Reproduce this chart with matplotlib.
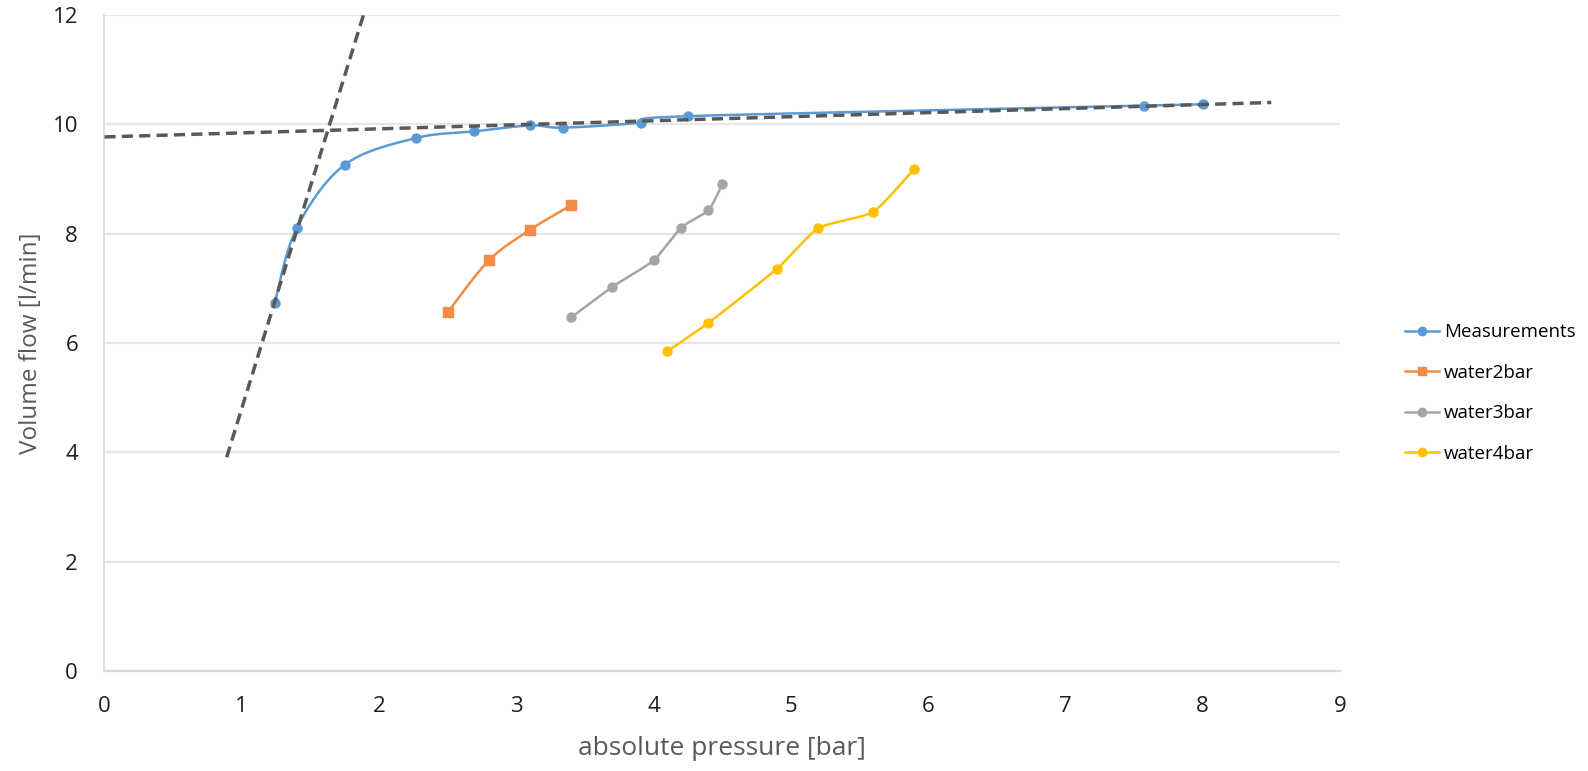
import numpy as np
import matplotlib
matplotlib.use("Agg")
import matplotlib.pyplot as plt

plt.rcParams['font.family'] = ['Open Sans', 'DejaVu Sans']

# data
meas_x = [1.24, 1.40, 1.75, 2.27, 2.69, 3.10, 3.34, 3.91, 4.25, 7.57, 8.0]
meas_y = [6.73, 8.10, 9.26, 9.75, 9.87, 9.98, 9.94, 10.03, 10.15, 10.34, 10.37]

w2_x = [2.5, 2.8, 3.1, 3.4]
w2_y = [6.56, 7.51, 8.07, 8.52]

w3_x = [3.4, 3.7, 4.0, 4.2, 4.4, 4.5]
w3_y = [6.47, 7.03, 7.51, 8.11, 8.43, 8.90]

w4_x = [4.1, 4.4, 4.9, 5.2, 5.6, 5.9]
w4_y = [5.85, 6.37, 7.36, 8.10, 8.40, 9.19]

# tangent lines (dashed)
steep_x = [0.89, 1.89]
steep_y = [3.91, 12.03]
flat_x = [0.0, 8.5]
flat_y = [9.77, 10.40]

labels = ['Measurements', 'water2bar', 'water3bar', 'water4bar']
colors = ['#5B9BD5', '#F38B45', '#A5A5A5', '#FFC000']
tension = [1 / 6.0, 1 / 6.0, 1 / 10.0, 1 / 10.0]


def smooth(xs, ys, f=1 / 6.0, n=30):
    # bezier through the points, like excel's "smoothed line"
    xs = np.asarray(xs, float)
    ys = np.asarray(ys, float)
    px, py = [], []
    k = len(xs)
    t = np.linspace(0, 1, n)
    for i in range(k - 1):
        i0 = max(i - 1, 0)
        i3 = min(i + 2, k - 1)
        c1x = xs[i] + (xs[i + 1] - xs[i0]) * f
        c1y = ys[i] + (ys[i + 1] - ys[i0]) * f
        c2x = xs[i + 1] - (xs[i3] - xs[i]) * f
        c2y = ys[i + 1] - (ys[i3] - ys[i]) * f
        bx = (1 - t) ** 3 * xs[i] + 3 * (1 - t) ** 2 * t * c1x + 3 * (1 - t) * t ** 2 * c2x + t ** 3 * xs[i + 1]
        by = (1 - t) ** 3 * ys[i] + 3 * (1 - t) ** 2 * t * c1y + 3 * (1 - t) * t ** 2 * c2y + t ** 3 * ys[i + 1]
        px.extend(bx)
        py.extend(by)
    return px, py


fig = plt.figure(figsize=(15.88, 7.71), dpi=100)
ax = fig.add_axes([0.0658, 0.1297, 0.778, 0.8508])

series = [(meas_x, meas_y, 'o'), (w2_x, w2_y, 's'), (w3_x, w3_y, 'o'), (w4_x, w4_y, 'o')]
handles = []
for (xs, ys, mk), lab, col, f in zip(series, labels, colors, tension):
    sx, sy = smooth(xs, ys, f)
    ax.plot(sx, sy, color=col, lw=1.8, zorder=3)
    ax.plot(xs, ys, linestyle='none', marker=mk, color=col, markersize=6.5, zorder=4)
    h, = ax.plot([], [], color=col, lw=1.8, marker=mk, markersize=6, label=lab)
    handles.append(h)

ax.plot(steep_x, steep_y, color='#595959', lw=2.5, linestyle=(0, (3.2, 1.8)), zorder=5)
ax.plot(flat_x, flat_y, color='#595959', lw=2.5, linestyle=(0, (3.2, 1.8)), zorder=5)

ax.set_xlim(0, 9)
ax.set_ylim(0, 12)
ax.set_xticks(range(0, 10))
ax.set_yticks(range(0, 13, 2))
ax.grid(axis='y', color='#E6E6E6', lw=1.6)
ax.set_axisbelow(True)
for s in ['top', 'right']:
    ax.spines[s].set_visible(False)
ax.spines['left'].set_color('#D9D9D9')
ax.spines['bottom'].set_color('#D9D9D9')
ax.spines['left'].set_linewidth(1.2)
ax.spines['bottom'].set_linewidth(1.6)
ax.tick_params(length=0, labelsize=16, colors='#1e1e1e')
ax.tick_params(axis='x', pad=18)
ax.tick_params(axis='y', pad=19)

ax.set_xlabel('absolute pressure [bar]', fontsize=19, color='#595959', labelpad=14)
ax.set_ylabel('Volume flow [l/min]', fontsize=17.5, color='#595959', labelpad=7)

fig.legend(handles=handles, loc='center left', bbox_to_anchor=(0.874, 0.49),
           frameon=False, fontsize=13.5, labelspacing=1.2, handlelength=1.8,
           handletextpad=0.3, labelcolor='#000000')

fig.savefig('out.png', dpi=100)
